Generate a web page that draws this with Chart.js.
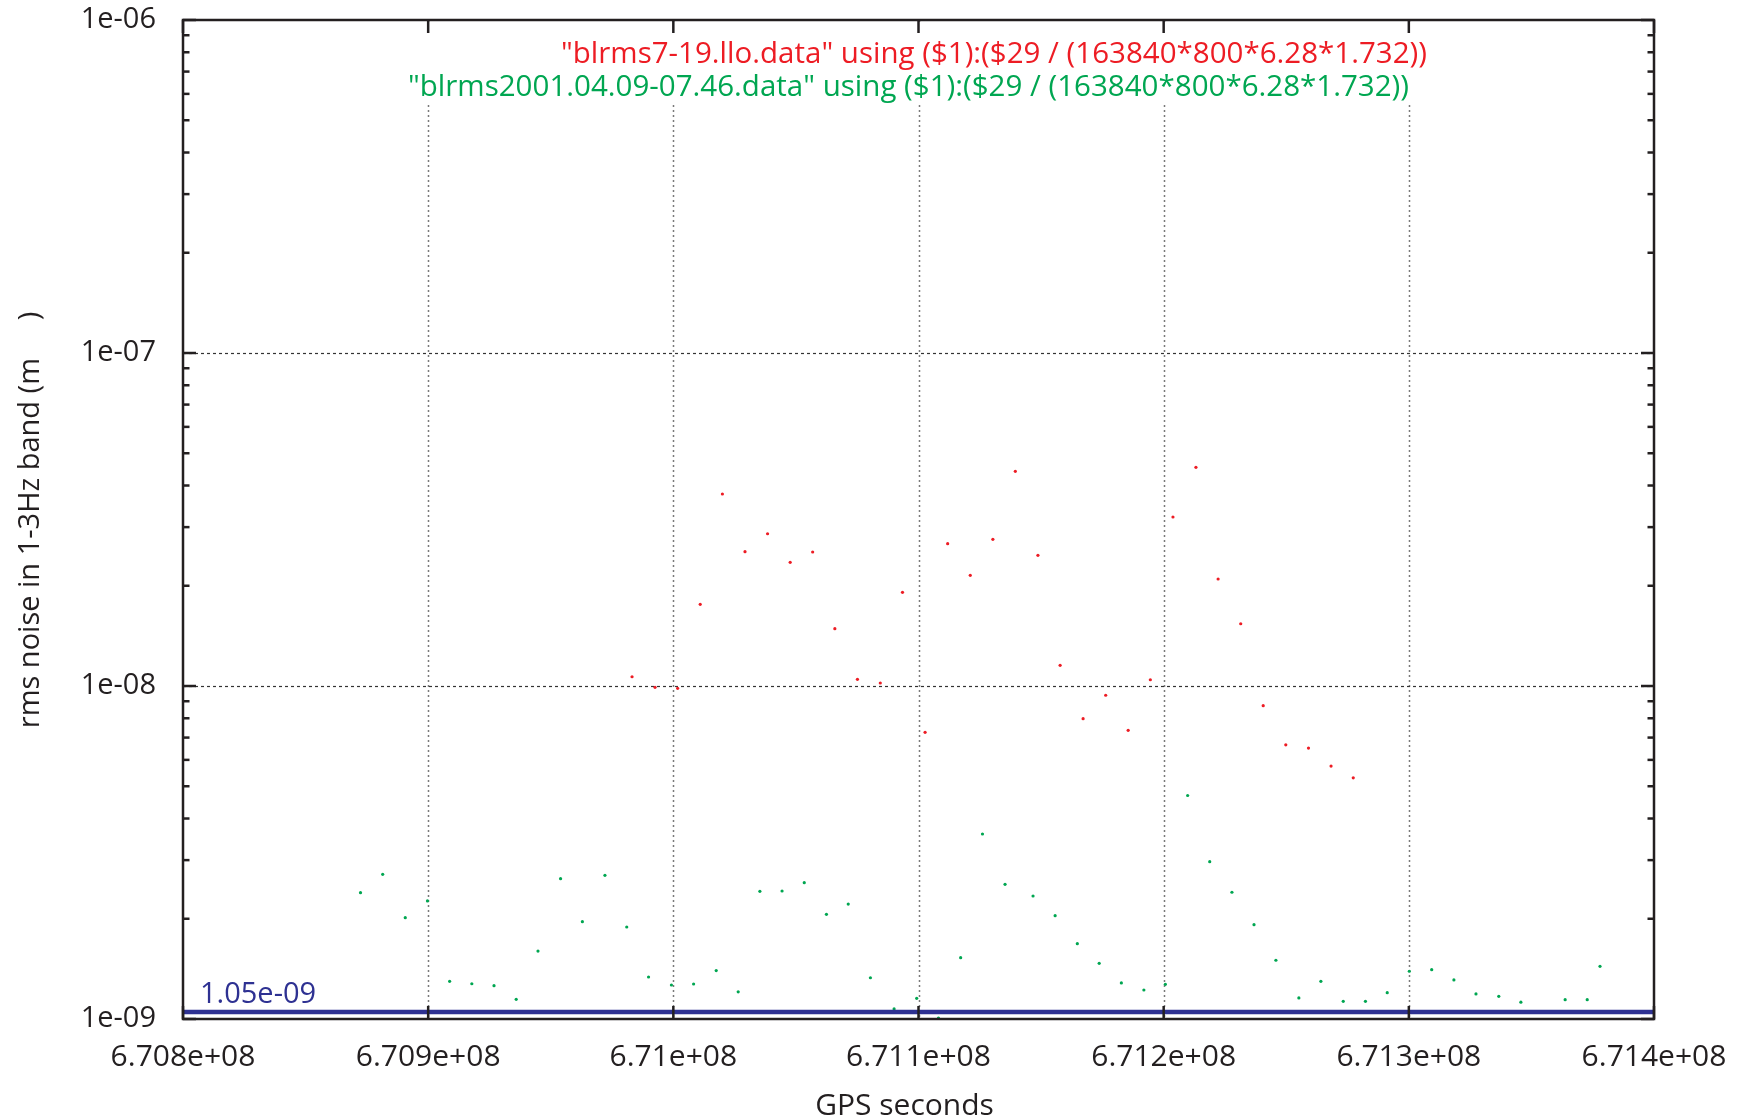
<!DOCTYPE html>
<html>
<head>
<meta charset="utf-8">
<title>1-3Hz band rms noise</title>
<script src="https://cdn.jsdelivr.net/npm/chart.js@4/dist/chart.umd.min.js"></script>
<style>
  html, body { margin: 0; padding: 0; background: #fff; overflow: hidden; }
  #wrap { width: 1742px; height: 1119px; position: relative; }
  canvas { display: block; }
</style>
</head>
<body>
<div id="wrap"><canvas id="c" width="1742" height="1119"></canvas></div>
<script>
// ---- data -------------------------------------------------------------
// LLO band-limited rms, column 29 scaled to metres (first file)
const lloGps = [670983160, 670992540, 671001750, 671010970, 671020010, 671029230, 671038440,
  671047660, 671056830, 671065880, 671075090, 671084420, 671093470, 671102690, 671111900,
  671121120, 671130330, 671139500, 671148710, 671157760, 671167140, 671176350, 671185520,
  671194570, 671203790, 671213160, 671222210, 671231430, 671240600, 671249810, 671259070,
  671268280, 671277330];
const lloRms = [1.066e-8, 0.991e-8, 0.984e-8, 1.759e-8, 3.772e-8, 2.531e-8, 2.866e-8,
  2.352e-8, 2.526e-8, 1.486e-8, 1.047e-8, 1.021e-8, 1.911e-8, 0.726e-8, 2.675e-8,
  2.150e-8, 2.757e-8, 4.412e-8, 2.469e-8, 1.154e-8, 0.798e-8, 0.938e-8, 0.736e-8,
  1.044e-8, 3.217e-8, 4.537e-8, 2.096e-8, 1.538e-8, 0.873e-8, 0.666e-8, 0.651e-8,
  0.575e-8, 0.530e-8];

// 2001.04.09-07.46 run (second file)
const runGps = [670872400, 670881450, 670890660, 670899710, 670908760, 670917810, 670926860,
  670935910, 670944800, 670954010, 670962900, 670972110, 670981000, 670989890, 670999220,
  671008270, 671017490, 671026460, 671035300, 671044350, 671053400, 671062450, 671071340,
  671080390, 671090050, 671099260, 671108150, 671117200, 671126090, 671135300, 671146720,
  671155730, 671164780, 671173700, 671182750, 671191930, 671200690, 671209780, 671218790,
  671227840, 671236850, 671245780, 671255150, 671264120, 671273250, 671282300, 671291190,
  671300200, 671309330, 671318380, 671327390, 671336690, 671345700, 671363760, 671372760,
  671377980];
const runRms = [2.395e-9, 2.720e-9, 2.015e-9, 2.262e-9, 1.298e-9, 1.276e-9, 1.259e-9,
  1.146e-9, 1.600e-9, 2.638e-9, 1.960e-9, 2.701e-9, 1.889e-9, 1.337e-9, 1.265e-9,
  1.274e-9, 1.398e-9, 1.207e-9, 2.418e-9, 2.423e-9, 2.566e-9, 2.062e-9, 2.214e-9,
  1.330e-9, 1.072e-9, 1.154e-9, 1.007e-9, 1.528e-9, 3.594e-9, 2.538e-9, 2.341e-9,
  2.043e-9, 1.684e-9, 1.470e-9, 1.283e-9, 1.222e-9, 1.271e-9, 4.690e-9, 2.968e-9,
  2.402e-9, 1.920e-9, 1.501e-9, 1.157e-9, 1.298e-9, 1.130e-9, 1.130e-9, 1.200e-9,
  1.391e-9, 1.406e-9, 1.310e-9, 1.189e-9, 1.170e-9, 1.123e-9, 1.143e-9, 1.143e-9,
  1.439e-9];

// constant reference level
const floorLevel = 1.05e-9;
const floorLabel = '1.05e-09';

// axes
const xTickValues = [6.708e8, 6.709e8, 6.710e8, 6.711e8, 6.712e8, 6.713e8, 6.714e8];
const xTickLabels = ['6.708e+08', '6.709e+08', '6.71e+08', '6.711e+08', '6.712e+08', '6.713e+08', '6.714e+08'];
const yTickValues = [1e-9, 1e-8, 1e-7, 1e-6];
const yTickLabels = ['1e-09', '1e-08', '1e-07', '1e-06'];
const xTitle = 'GPS seconds';
const yTitle = 'rms noise in 1-3Hz band (m     )';

const keyLines = [
  '"blrms7-19.llo.data" using ($1):($29 / (163840*800*6.28*1.732))',
  '"blrms2001.04.09-07.46.data" using ($1):($29 / (163840*800*6.28*1.732))'
];

// ---- styling ----------------------------------------------------------
const RED = '#ed1c24';
const GREEN = '#00a651';
const BLUE = '#2e3192';
const INK = '#231f20';
const FONT = '"Open Sans", "DejaVu Sans", sans-serif';

const toPoints = (xs, ys) => xs.map((v, i) => ({ x: v, y: ys[i] }));

function line(ctx, x1, y1, x2, y2) {
  ctx.beginPath(); ctx.moveTo(x1, y1); ctx.lineTo(x2, y2); ctx.stroke();
}

// Grid, border, inward ticks and all text are drawn gnuplot-style here.
const gnuplotFrame = {
  id: 'gnuplotFrame',
  beforeDatasetsDraw(chart) {
    const { ctx, chartArea: a, scales: { x, y } } = chart;
    ctx.save();
    // vertical grid
    ctx.setLineDash([2, 3]);
    ctx.strokeStyle = '#7a7a7a';
    ctx.lineWidth = 1.5;
    xTickValues.forEach(v => {
      if (v <= x.min || v >= x.max) return;
      const px = Math.round(x.getPixelForValue(v)) + 0.5;
      line(ctx, px, a.top, px, a.bottom);
    });
    // horizontal grid
    ctx.setLineDash([3, 3]);
    ctx.strokeStyle = '#333';
    ctx.lineWidth = 1.2;
    yTickValues.forEach(v => {
      if (v <= y.min || v >= y.max) return;
      const py = Math.round(y.getPixelForValue(v)) + 0.5;
      line(ctx, a.left, py, a.right, py);
    });
    ctx.setLineDash([]);
    // opaque key box
    ctx.fillStyle = '#fff';
    ctx.fillRect(395, a.top + 2, 1050, 81);
    ctx.restore();
  },
  afterDatasetsDraw(chart) {
    const { ctx, chartArea: a, scales: { x, y } } = chart;
    ctx.save();
    ctx.strokeStyle = INK;
    ctx.lineWidth = 2.5;
    ctx.setLineDash([]);
    // border
    ctx.strokeRect(a.left, a.top, a.right - a.left, a.bottom - a.top);

    // x ticks (bottom and top, inward)
    const major = 13, minor = 6.5;
    xTickValues.forEach(v => {
      const px = x.getPixelForValue(v);
      line(ctx, px, a.bottom, px, a.bottom - major);
      line(ctx, px, a.top, px, a.top + major);
    });
    // y major ticks
    yTickValues.forEach(v => {
      const py = y.getPixelForValue(v);
      line(ctx, a.left, py, a.left + major, py);
      line(ctx, a.right, py, a.right - major, py);
    });
    // y minor ticks at 2..9 of each decade
    for (let d = -9; d < -6; d++) {
      for (let m = 2; m <= 9; m++) {
        const py = y.getPixelForValue(m * Math.pow(10, d));
        line(ctx, a.left, py, a.left + minor, py);
        line(ctx, a.right, py, a.right - minor, py);
      }
    }

    // tick labels
    ctx.fillStyle = INK;
    ctx.textBaseline = 'middle';
    ctx.textAlign = 'center';
    ctx.font = '30px ' + FONT;
    xTickValues.forEach((v, i) => {
      ctx.fillText(xTickLabels[i], x.getPixelForValue(v), a.bottom + 38);
    });
    ctx.font = '29px ' + FONT;
    ctx.textAlign = 'right';
    yTickValues.forEach((v, i) => {
      ctx.fillText(yTickLabels[i], a.left - 27, y.getPixelForValue(v));
    });

    // axis titles
    ctx.textAlign = 'center';
    ctx.font = '30px ' + FONT;
    ctx.fillText(xTitle, (a.left + a.right) / 2 - 14, a.bottom + 87);
    ctx.font = '29px ' + FONT;
    ctx.save();
    ctx.translate(31, 520);
    ctx.rotate(-Math.PI / 2);
    ctx.fillText(yTitle, 0, 0, 418);
    ctx.restore();

    // key
    ctx.font = '30px ' + FONT;
    ctx.textAlign = 'left';
    ctx.fillStyle = RED;
    ctx.fillText(keyLines[0], 561, a.top + 34, 866);
    ctx.fillStyle = GREEN;
    ctx.fillText(keyLines[1], 408, a.top + 67, 1001);

    // reference level label
    ctx.font = '29px ' + FONT;
    ctx.fillStyle = BLUE;
    ctx.fillText(floorLabel, a.left + 17, y.getPixelForValue(floorLevel) - 17);
    ctx.restore();
  }
};

function build() {
  new Chart(document.getElementById('c'), {
    type: 'scatter',
    data: {
      datasets: [
        {
          label: 'floor',
          data: [{ x: xTickValues[0], y: floorLevel }, { x: xTickValues[xTickValues.length - 1], y: floorLevel }],
          showLine: true,
          borderColor: BLUE,
          borderWidth: 4.5,
          pointRadius: 0,
          order: 0
        },
        {
          label: keyLines[1],
          data: toPoints(runGps, runRms),
          backgroundColor: GREEN,
          borderWidth: 0,
          pointRadius: 1.6,
          order: 1
        },
        {
          label: keyLines[0],
          data: toPoints(lloGps, lloRms),
          backgroundColor: RED,
          borderWidth: 0,
          pointRadius: 1.6,
          order: 2
        }
      ]
    },
    options: {
      responsive: false,
      animation: false,
      events: [],
      layout: { padding: { left: 183, right: 88, top: 20, bottom: 100 } },
      plugins: { legend: { display: false }, tooltip: { enabled: false }, title: { display: false } },
      scales: {
        x: { type: 'linear', display: false, min: xTickValues[0], max: xTickValues[xTickValues.length - 1] },
        y: { type: 'logarithmic', display: false, min: yTickValues[0], max: yTickValues[yTickValues.length - 1] }
      }
    },
    plugins: [gnuplotFrame]
  });
}

if (document.fonts && document.fonts.load) {
  document.fonts.load('30px "Open Sans"').then(build, build);
} else {
  build();
}
</script>
</body>
</html>
